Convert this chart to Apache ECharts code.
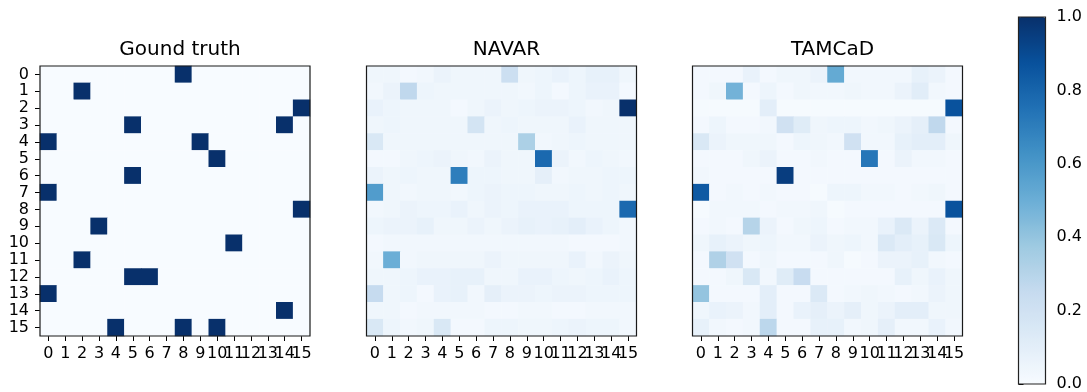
<!DOCTYPE html>
<html>
<head>
<meta charset="utf-8">
<script src="https://cdn.jsdelivr.net/npm/echarts@6/dist/echarts.min.js"></script>
<style>
  html, body { margin: 0; padding: 0; background: #fff; }
  #chart { width: 1087px; height: 392px; }
</style>
</head>
<body>
<div id="chart"></div>
<script>
// Node indices shared by both axes of every matrix
const nodes = ['0','1','2','3','4','5','6','7','8','9','10','11','12','13','14','15'];

// Panel titles
const panelTitles = ['Gound truth', 'NAVAR', 'TAMCaD'];

// True causal links as [row, column]
const truthLinks = [
  [0, 8], [1, 2], [2, 15], [3, 5], [3, 14], [4, 0], [4, 9], [5, 10],
  [6, 5], [7, 0], [8, 15], [9, 3], [10, 11], [11, 2], [12, 5], [12, 6],
  [13, 0], [14, 14], [15, 4], [15, 8], [15, 10]
];

// NAVAR estimated scores, one row per node
const navar = [
  [0.04,0.04,0.02,0.03,0.06,0.04,0.04,0.04,0.22,0.04,0.05,0.07,0.05,0.08,0.08,0.04],
  [0.03,0.06,0.27,0.05,0.04,0.04,0.04,0.04,0.04,0.03,0.05,0.02,0.05,0.07,0.07,0.02],
  [0.07,0.05,0.04,0.04,0.04,0.02,0.04,0.06,0.04,0.05,0.06,0.06,0.05,0.03,0.04,1.00],
  [0.04,0.05,0.04,0.04,0.04,0.04,0.18,0.04,0.05,0.04,0.04,0.04,0.07,0.04,0.04,0.04],
  [0.15,0.04,0.04,0.04,0.04,0.04,0.04,0.04,0.04,0.33,0.03,0.04,0.05,0.04,0.04,0.04],
  [0.02,0.02,0.04,0.05,0.06,0.04,0.03,0.06,0.04,0.04,0.78,0.06,0.03,0.05,0.04,0.03],
  [0.06,0.04,0.05,0.04,0.04,0.70,0.05,0.05,0.04,0.04,0.09,0.03,0.04,0.04,0.05,0.05],
  [0.58,0.04,0.03,0.04,0.04,0.03,0.05,0.06,0.05,0.05,0.04,0.04,0.05,0.04,0.05,0.04],
  [0.03,0.04,0.06,0.05,0.05,0.07,0.04,0.06,0.05,0.07,0.07,0.07,0.05,0.05,0.05,0.78],
  [0.05,0.06,0.06,0.08,0.04,0.04,0.06,0.04,0.06,0.08,0.07,0.08,0.10,0.07,0.05,0.03],
  [0.02,0.03,0.03,0.03,0.03,0.03,0.03,0.03,0.03,0.03,0.03,0.03,0.02,0.02,0.02,0.03],
  [0.03,0.50,0.03,0.04,0.04,0.04,0.04,0.06,0.04,0.04,0.04,0.04,0.07,0.03,0.06,0.04],
  [0.04,0.04,0.05,0.07,0.07,0.08,0.08,0.04,0.04,0.07,0.07,0.05,0.04,0.05,0.07,0.05],
  [0.25,0.04,0.05,0.02,0.07,0.08,0.03,0.09,0.06,0.06,0.05,0.06,0.06,0.05,0.05,0.05],
  [0.04,0.04,0.02,0.03,0.03,0.03,0.03,0.02,0.02,0.03,0.03,0.02,0.02,0.03,0.03,0.03],
  [0.15,0.05,0.03,0.04,0.15,0.02,0.02,0.05,0.05,0.04,0.04,0.05,0.06,0.05,0.05,0.03]
];

// TAMCaD estimated scores, one row per node
const tamcad = [
  [0.02,0.02,0.02,0.07,0.02,0.04,0.04,0.06,0.52,0.03,0.03,0.03,0.03,0.08,0.06,0.02],
  [0.02,0.04,0.48,0.02,0.05,0.02,0.04,0.03,0.03,0.04,0.03,0.03,0.06,0.11,0.03,0.02],
  [0.01,0.01,0.01,0.01,0.10,0.01,0.01,0.01,0.01,0.01,0.01,0.01,0.01,0.01,0.01,0.87],
  [0.02,0.05,0.02,0.02,0.03,0.20,0.12,0.04,0.05,0.05,0.03,0.04,0.06,0.09,0.27,0.02],
  [0.15,0.06,0.04,0.04,0.04,0.02,0.05,0.04,0.03,0.20,0.03,0.03,0.08,0.10,0.10,0.04],
  [0.02,0.02,0.02,0.04,0.06,0.02,0.02,0.03,0.02,0.02,0.73,0.02,0.06,0.03,0.03,0.02],
  [0.03,0.02,0.02,0.02,0.02,0.95,0.02,0.02,0.02,0.02,0.02,0.02,0.02,0.02,0.02,0.02],
  [0.84,0.02,0.03,0.02,0.03,0.02,0.02,0.01,0.05,0.05,0.03,0.03,0.02,0.03,0.04,0.02],
  [0.01,0.03,0.03,0.03,0.02,0.03,0.03,0.04,0.01,0.02,0.02,0.02,0.02,0.02,0.02,0.87],
  [0.02,0.03,0.02,0.30,0.06,0.02,0.04,0.05,0.02,0.03,0.03,0.07,0.14,0.06,0.14,0.02],
  [0.04,0.08,0.06,0.04,0.05,0.03,0.03,0.06,0.04,0.05,0.03,0.14,0.10,0.08,0.15,0.05],
  [0.02,0.32,0.20,0.02,0.04,0.02,0.02,0.02,0.04,0.01,0.02,0.06,0.06,0.08,0.03,0.02],
  [0.02,0.02,0.04,0.15,0.03,0.12,0.24,0.02,0.02,0.02,0.02,0.02,0.08,0.04,0.07,0.04],
  [0.40,0.02,0.02,0.02,0.10,0.02,0.02,0.14,0.02,0.03,0.04,0.03,0.02,0.03,0.06,0.04],
  [0.04,0.07,0.06,0.03,0.10,0.02,0.07,0.09,0.06,0.09,0.04,0.06,0.10,0.10,0.04,0.04],
  [0.08,0.03,0.02,0.03,0.28,0.02,0.02,0.08,0.08,0.03,0.04,0.09,0.03,0.03,0.07,0.03]
];

// Colour bar ticks
const colorbarTicks = [0.0, 0.2, 0.4, 0.6, 0.8, 1.0];

// Blues colour ramp
const blues = ['#f7fbff','#deebf7','#c6dbef','#9ecae1','#6baed6','#4292c6','#2171b5','#08519c','#08306b'];

function truthMatrix() {
  const m = nodes.map(() => nodes.map(() => 0));
  truthLinks.forEach(([r, c]) => { m[r][c] = 1; });
  return m;
}

function toCells(matrix) {
  const out = [];
  matrix.forEach((row, r) => row.forEach((v, c) => out.push([c, r, v])));
  return out;
}

const matrices = [truthMatrix(), navar, tamcad];

const FONT = 'DejaVu Sans';
const TICK_FONT = 16;
const panelLeft = [40, 366.5, 692.5];
const panelTop = 66;
const panelSize = 270;

// frames sit above the cells so the outline stays crisp
const grids = panelLeft.map(l => ({
  left: l, top: panelTop, width: panelSize, height: panelSize, z: 5,
  show: true, borderColor: '#1a1a1a', borderWidth: 1.2, backgroundColor: 'transparent'
}));
// colour bar frame
grids.push({ left: 1018.5, top: 17, width: 27, height: 367, z: 5, show: true, borderColor: '#222', borderWidth: 1.2, backgroundColor: 'transparent' });

const tickStyle = { show: true, alignWithLabel: true, length: 5, lineStyle: { color: '#000', width: 1 } };

const xAxes = panelLeft.map((_, i) => ({
  type: 'category', data: nodes, gridIndex: i, position: 'bottom',
  axisLine: { show: false },
  axisTick: tickStyle,
  axisLabel: { interval: 0, color: '#000', fontFamily: FONT, fontSize: TICK_FONT, margin: 10 },
  splitLine: { show: false }
}));
xAxes.push({ type: 'value', gridIndex: 3, show: false, min: 0, max: 1 });

const yAxes = panelLeft.map((_, i) => ({
  type: 'category', data: nodes, gridIndex: i, inverse: true,
  axisLine: { show: false },
  axisTick: Object.assign({}, tickStyle, { show: i === 0 }),
  axisLabel: { show: i === 0, interval: 0, color: '#000', fontFamily: FONT, fontSize: TICK_FONT, margin: 11 },
  splitLine: { show: false }
}));
yAxes.push({
  type: 'value', gridIndex: 3, position: 'right', min: 0, max: 1, interval: 0.2,
  axisLine: { show: false },
  axisTick: { show: true, length: 5, lineStyle: { color: '#000', width: 1 } },
  axisLabel: { color: '#000', fontFamily: FONT, fontSize: TICK_FONT, margin: 11,
    formatter: v => colorbarTicks.includes(Math.round(v * 10) / 10) ? v.toFixed(1) : '' },
  splitLine: { show: false }
});

const series = matrices.map((m, i) => ({
  type: 'heatmap', xAxisIndex: i, yAxisIndex: i, data: toCells(m),
  itemStyle: { borderWidth: 0 }, emphasis: { disabled: true }, progressive: 0
}));

const chart = echarts.init(document.getElementById('chart'), null, { renderer: 'canvas' });
chart.setOption({
  animation: false,
  backgroundColor: '#fff',
  title: panelTitles.map((t, i) => ({
    text: t, left: panelLeft[i] + panelSize / 2, top: 35, textAlign: 'center',
    textStyle: { fontFamily: FONT, fontSize: 20, fontWeight: 'normal', color: '#000' }
  })),
  grid: grids,
  xAxis: xAxes,
  yAxis: yAxes,
  visualMap: {
    type: 'continuous', min: 0, max: 1, seriesIndex: [0, 1, 2],
    inRange: { color: blues }, calculable: false, hoverLink: false,
    orient: 'vertical', left: 1013.5, top: 12, itemWidth: 27, itemHeight: 367,
    padding: 5, text: null, showLabel: false
  },
  series: series
});
</script>
</body>
</html>
